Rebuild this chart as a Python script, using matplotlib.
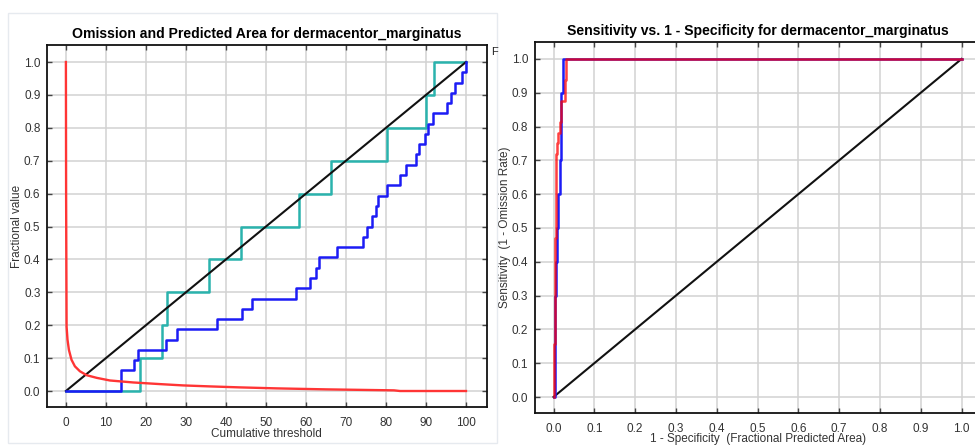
import matplotlib
matplotlib.use("Agg")
import matplotlib.pyplot as plt
from matplotlib.patches import Rectangle

plt.rcParams['font.family'] = ['Liberation Sans', 'DejaVu Sans']

# ---------------- data: left panel (omission / predicted area) ----------------
threshold_line = [0, 100]
predicted_omission = [0.0, 1.0]

train_omission_x = [0, 13.7, 17.1, 17.9, 25.0, 27.7, 37.7, 43.9, 46.6, 57.5, 61.0,
                    62.5, 63.2, 67.8, 74.2, 75.2, 76.5, 77.5, 78.0, 80.3, 83.5, 84.9,
                    87.5, 88.25, 89.75, 90.6, 91.8, 95.2, 96.2, 97.25, 98.9, 100]
train_omission_y = [0, 0.0625, 0.094, 0.125, 0.156, 0.1875, 0.219, 0.25, 0.281,
                    0.3125, 0.344, 0.375, 0.406, 0.4375, 0.469, 0.5, 0.531, 0.5625,
                    0.594, 0.625, 0.656, 0.6875, 0.719, 0.75, 0.781, 0.8125, 0.844,
                    0.875, 0.906, 0.9375, 0.969, 1.0]

test_omission_x = [0, 18.5, 24.1, 25.2, 35.75, 43.75, 58.3, 66.3, 80.2, 89.9, 92.0, 100]
test_omission_y = [0, 0.1, 0.2, 0.3, 0.4, 0.5, 0.6, 0.7, 0.8, 0.9, 1.0, 1.0]

bg_area_x = [0, 0.05, 0.17, 0.4, 0.75, 1.4, 2.25, 3.5, 5.2, 7.7, 11, 16.8, 23.5, 29.3,
             36, 43.5, 52.7, 65, 82, 83.5, 100]
bg_area_y = [1.0, 0.6, 0.196, 0.156, 0.125, 0.095, 0.075, 0.06, 0.048, 0.04, 0.032,
             0.026, 0.021, 0.017, 0.014, 0.011, 0.008, 0.005, 0.002, 0.0, 0.0]

left_xticks = [0, 10, 20, 30, 40, 50, 60, 70, 80, 90, 100]
left_yticks = [0.0, 0.1, 0.2, 0.3, 0.4, 0.5, 0.6, 0.7, 0.8, 0.9, 1.0]

# ---------------- data: right panel (ROC) ----------------
random_x = [0, 1]
random_y = [0, 1]
roc_train_fpr = [0, 0, 0.0025, 0.005, 0.0065, 0.009, 0.012, 0.0147, 0.0188, 0.027, 0.031, 1.0]
roc_train_tpr = [0, 0.156, 0.469, 0.594, 0.719, 0.75, 0.781, 0.813, 0.875, 0.938, 1.0, 1.0]
roc_test_fpr = [0, 0.0025, 0.005, 0.0085, 0.012, 0.015, 0.019, 0.023, 1.0]
roc_test_tpr = [0, 0.3, 0.4, 0.5, 0.6, 0.7, 0.9, 1.0, 1.0]

right_ticks = [0.0, 0.1, 0.2, 0.3, 0.4, 0.5, 0.6, 0.7, 0.8, 0.9, 1.0]

W, H = 975, 446
fig = plt.figure(figsize=(W / 100, H / 100), dpi=100)
fig.patch.set_facecolor('white')

# panel frame of the left image
fig.patches.append(Rectangle((8 / W, 1 - 443 / H), (497 - 8) / W, (443 - 13) / H,
                             transform=fig.transFigure, fill=False,
                             edgecolor='#e6eaef', linewidth=1.0, zorder=0))


def style_axes(ax):
    ax.set_facecolor('white')
    for s in ax.spines.values():
        s.set_color('#111111')
        s.set_linewidth(1.3)
    ax.grid(True, color='#d2d2d2', linewidth=1.1)
    ax.set_axisbelow(True)
    ax.tick_params(direction='in', length=3.5, width=1.0, color='#444444',
                   top=True, right=True, labelsize=8.5, labelcolor='#333333')
    ax.tick_params(axis='x', pad=7)
    ax.tick_params(axis='y', pad=4.5)


def px_axes(l, t, r, b):
    return fig.add_axes([l / W, 1 - b / H, (r - l) / W, (b - t) / H])


# ---------------- left panel ----------------
L1, T1, R1, B1 = 46.7, 45, 487, 407
ax1 = px_axes(L1, T1, R1, B1)
style_axes(ax1)
ax1.plot(test_omission_x, test_omission_y, drawstyle='steps-post',
         color='#2ab3ad', linewidth=1.8)
ax1.plot(threshold_line, predicted_omission, color='#111111', linewidth=1.5)
ax1.plot(train_omission_x, train_omission_y, drawstyle='steps-post',
         color='#1c1cf5', linewidth=1.8)
ax1.plot(bg_area_x, bg_area_y, color='#ff3535', linewidth=1.7)
ax1.set_xlim(-4.8, 105.25)
ax1.set_ylim(-0.0486, 1.0517)
ax1.set_xticks(left_xticks)
ax1.set_yticks(left_yticks)
ax1.set_yticklabels([f"{v:.1f}" for v in left_yticks])
ax1.set_title("Omission and Predicted Area for dermacentor_marginatus",
              fontsize=10.1, fontweight='bold', pad=5)
ax1.set_xlabel("Cumulative threshold", fontsize=8.5, color='#333333')
ax1.set_ylabel("Fractional value", fontsize=8.5, color='#333333')
ax1.xaxis.set_label_coords(0.5, -(434 - B1) / (B1 - T1))
ax1.yaxis.set_label_coords(-(L1 - 17) / (R1 - L1), 0.5)
ax1.xaxis.label.set_va('center')
ax1.yaxis.label.set_va('center')

fig.text(491 / W, 1 - 57 / H, "F", fontsize=8, color='#222222', ha='left', va='bottom')

# ---------------- right panel ----------------
L2, T2, R2, B2 = 534.5, 42, 982, 413
ax2 = px_axes(L2, T2, R2, B2)
style_axes(ax2)
ax2.plot(random_x, random_y, color='#111111', linewidth=1.5)
ax2.plot(roc_test_fpr, roc_test_tpr, drawstyle='steps-post',
         color='#1c1cf5', linewidth=1.8)
ax2.plot(roc_train_fpr, roc_train_tpr, drawstyle='steps-post',
         color='#ff0000', linewidth=1.8, alpha=0.75)
ax2.set_xlim(-0.0466, 1.05)
ax2.set_ylim(-0.0473, 1.050)
ax2.set_xticks(right_ticks)
ax2.set_yticks(right_ticks)
ax2.set_xticklabels([f"{v:.1f}" for v in right_ticks])
ax2.set_yticklabels([f"{v:.1f}" for v in right_ticks])
ax2.set_title("Sensitivity vs. 1 - Specificity for dermacentor_marginatus",
              fontsize=10.1, fontweight='bold', pad=5)
ax2.set_xlabel("1 - Specificity  (Fractional Predicted Area)", fontsize=8.5,
               color='#333333')
ax2.set_ylabel("Sensitivity  (1 - Omission Rate)", fontsize=8.5, color='#333333')
ax2.xaxis.set_label_coords((758 - L2) / (R2 - L2), -(439 - B2) / (B2 - T2))
ax2.yaxis.set_label_coords(-(L2 - 505) / (R2 - L2), 0.5)
ax2.xaxis.label.set_va('center')
ax2.yaxis.label.set_va('center')

fig.savefig("out.png", dpi=100, facecolor='white')
